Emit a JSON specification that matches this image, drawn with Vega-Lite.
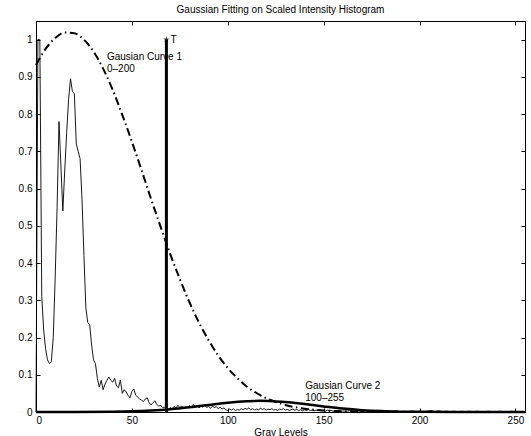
{
  "$schema": "https://vega.github.io/schema/vega-lite/v6.json",
  "width": 489,
  "height": 391,
  "autosize": "none",
  "padding": {"left": 36, "top": 21, "right": 6, "bottom": 24},
  "background": "white",
  "config": {
    "font": "Liberation Sans",
    "view": {"stroke": "black", "strokeWidth": 1},
    "axis": {"grid": false, "domainColor": "black", "tickColor": "black", "labelColor": "black", "titleColor": "black", "labelFontSize": 10, "titleFontSize": 10, "titleFontWeight": "normal", "tickSize": -4, "labelFont": "Liberation Sans", "titleFont": "Liberation Sans"}
  },
  "title": {"text": "Gaussian Fitting on Scaled Intensity Histogram", "fontSize": 10, "fontWeight": "normal", "offset": 6, "color": "black", "font": "Liberation Sans"},
  "datasets": {
    "hist": [
      {"x":0,"y":0},{"x":1,"y":1},{"x":2,"y":1},{"x":3,"y":0.31},{"x":4,"y":0.22},{"x":5,"y":0.17},{"x":6,"y":0.14},{"x":7,"y":0.13},{"x":8,"y":0.135},{"x":9,"y":0.2},
      {"x":10,"y":0.36},{"x":11,"y":0.55},{"x":12,"y":0.78},{"x":13,"y":0.66},{"x":14,"y":0.54},{"x":15,"y":0.65},{"x":16,"y":0.75},{"x":17,"y":0.84},{"x":18,"y":0.895},{"x":19,"y":0.86},
      {"x":20,"y":0.855},{"x":21,"y":0.72},{"x":22,"y":0.7},{"x":23,"y":0.68},{"x":24,"y":0.57},{"x":25,"y":0.42},{"x":26,"y":0.28},{"x":27,"y":0.24},{"x":28,"y":0.235},{"x":29,"y":0.18},
      {"x":30,"y":0.14},{"x":31,"y":0.13},{"x":32,"y":0.09},{"x":33,"y":0.067},{"x":34,"y":0.085},{"x":35,"y":0.06},{"x":36,"y":0.075},{"x":37,"y":0.085},{"x":38,"y":0.094},{"x":39,"y":0.085},
      {"x":40,"y":0.08},{"x":41,"y":0.09},{"x":42,"y":0.07},{"x":43,"y":0.065},{"x":44,"y":0.086},{"x":45,"y":0.05},{"x":46,"y":0.06},{"x":47,"y":0.054},{"x":48,"y":0.045},{"x":49,"y":0.038},
      {"x":50,"y":0.055},{"x":51,"y":0.062},{"x":52,"y":0.045},{"x":53,"y":0.04},{"x":54,"y":0.035},{"x":55,"y":0.032},{"x":56,"y":0.028},{"x":57,"y":0.035},{"x":58,"y":0.038},{"x":59,"y":0.025},
      {"x":60,"y":0.019},{"x":61,"y":0.025},{"x":62,"y":0.03},{"x":63,"y":0.02},{"x":64,"y":0.016},{"x":65,"y":0.018},{"x":66,"y":0.012},{"x":67,"y":0.013},{"x":68,"y":0.008},{"x":69,"y":0.005},
      {"x":70,"y":0.012},{"x":71,"y":0.008},{"x":72,"y":0.015},{"x":73,"y":0.01},{"x":74,"y":0.018},{"x":75,"y":0.012},{"x":76,"y":0.016},{"x":77,"y":0.009},{"x":78,"y":0.014},{"x":79,"y":0.011},
      {"x":80,"y":0.017},{"x":81,"y":0.012},{"x":82,"y":0.02},{"x":83,"y":0.014},{"x":84,"y":0.018},{"x":85,"y":0.011},{"x":86,"y":0.016},{"x":87,"y":0.013},{"x":88,"y":0.019},{"x":89,"y":0.012},
      {"x":90,"y":0.015},{"x":91,"y":0.01},{"x":92,"y":0.016},{"x":93,"y":0.012},{"x":94,"y":0.014},{"x":95,"y":0.009},{"x":96,"y":0.013},{"x":97,"y":0.008},{"x":98,"y":0.011},{"x":99,"y":0.006},
      {"x":100,"y":0.004},{"x":101,"y":0.008},{"x":102,"y":0.005},{"x":103,"y":0.009},{"x":104,"y":0.004},{"x":105,"y":0.007},{"x":106,"y":0.005},{"x":107,"y":0.009},{"x":108,"y":0.006},{"x":109,"y":0.01},
      {"x":110,"y":0.007},{"x":111,"y":0.011},{"x":112,"y":0.006},{"x":113,"y":0.009},{"x":114,"y":0.005},{"x":115,"y":0.008},{"x":116,"y":0.006},{"x":117,"y":0.01},{"x":118,"y":0.007},{"x":119,"y":0.009},
      {"x":120,"y":0.005},{"x":121,"y":0.008},{"x":122,"y":0.006},{"x":123,"y":0.009},{"x":124,"y":0.005},{"x":125,"y":0.007},{"x":126,"y":0.004},{"x":127,"y":0.008},{"x":128,"y":0.006},{"x":129,"y":0.009},
      {"x":130,"y":0.005},{"x":131,"y":0.007},{"x":132,"y":0.004},{"x":133,"y":0.006},{"x":134,"y":0.008},{"x":135,"y":0.005},{"x":136,"y":0.007},{"x":137,"y":0.004},{"x":138,"y":0.006},{"x":139,"y":0.003},
      {"x":140,"y":0.006},{"x":141,"y":0.004},{"x":142,"y":0.007},{"x":143,"y":0.004},{"x":144,"y":0.005},{"x":145,"y":0.003},{"x":146,"y":0.005},{"x":147,"y":0.004},{"x":148,"y":0.006},{"x":149,"y":0.003},
      {"x":150,"y":0.004},{"x":151,"y":0.002},{"x":152,"y":0.005},{"x":153,"y":0.003},{"x":154,"y":0.004},{"x":155,"y":0.002},{"x":156,"y":0.004},{"x":157,"y":0.003},{"x":158,"y":0.005},{"x":159,"y":0.002},
      {"x":160,"y":0.003},{"x":162,"y":0.002},{"x":164,"y":0.004},{"x":166,"y":0.002},{"x":168,"y":0.003},{"x":170,"y":0.001},{"x":172,"y":0.003},{"x":174,"y":0.002},{"x":176,"y":0.003},{"x":178,"y":0.001},
      {"x":180,"y":0.002},{"x":182,"y":0.003},{"x":184,"y":0.001},{"x":186,"y":0.002},{"x":188,"y":0.003},{"x":190,"y":0.001},{"x":192,"y":0.002},{"x":194,"y":0.001},{"x":196,"y":0.003},{"x":198,"y":0.001},
      {"x":200,"y":0.002},{"x":202,"y":0.001},{"x":204,"y":0.002},{"x":206,"y":0.004},{"x":208,"y":0.001},{"x":210,"y":0.003},{"x":212,"y":0.001},{"x":214,"y":0.002},{"x":216,"y":0.001},{"x":218,"y":0.002},
      {"x":220,"y":0.001},{"x":222,"y":0.002},{"x":224,"y":0.001},{"x":226,"y":0.002},{"x":228,"y":0.001},{"x":230,"y":0.002},{"x":232,"y":0.001},{"x":234,"y":0.001},{"x":236,"y":0.002},{"x":238,"y":0.001},
      {"x":240,"y":0.001},{"x":242,"y":0.002},{"x":244,"y":0.001},{"x":246,"y":0.001},{"x":248,"y":0.002},{"x":250,"y":0.001},{"x":252,"y":0.001},{"x":255,"y":0.001}
    ],
    "g1": [
      {"x":0,"y":0.932},{"x":5,"y":0.975},{"x":10,"y":1.004},{"x":15,"y":1.019},{"x":20,"y":1.017},{"x":25,"y":1.0},{"x":30,"y":0.968},{"x":35,"y":0.922},{"x":40,"y":0.865},{"x":45,"y":0.798},
      {"x":50,"y":0.726},{"x":55,"y":0.65},{"x":60,"y":0.572},{"x":65,"y":0.497},{"x":70,"y":0.424},{"x":75,"y":0.357},{"x":80,"y":0.295},{"x":85,"y":0.24},{"x":90,"y":0.193},{"x":95,"y":0.152},
      {"x":100,"y":0.118},{"x":105,"y":0.091},{"x":110,"y":0.068},{"x":115,"y":0.051},{"x":120,"y":0.037},{"x":125,"y":0.027},{"x":130,"y":0.019},{"x":135,"y":0.013},{"x":140,"y":0.009},{"x":145,"y":0.006},
      {"x":150,"y":0.004},{"x":160,"y":0.002},{"x":170,"y":0.001},{"x":180,"y":0},{"x":200,"y":0},{"x":255,"y":0}
    ],
    "g2": [
      {"x":0,"y":0},{"x":20,"y":0.0001},{"x":40,"y":0.0007},{"x":50,"y":0.0017},{"x":60,"y":0.0038},{"x":70,"y":0.0073},{"x":80,"y":0.0125},{"x":90,"y":0.0188},{"x":100,"y":0.025},{"x":110,"y":0.029},
      {"x":117,"y":0.03},{"x":125,"y":0.0285},{"x":130,"y":0.027},{"x":140,"y":0.0214},{"x":150,"y":0.015},{"x":160,"y":0.0092},{"x":170,"y":0.005},{"x":180,"y":0.0024},{"x":190,"y":0.001},{"x":200,"y":0.0004},
      {"x":220,"y":0},{"x":255,"y":0}
    ],
    "thr": [{"x":68,"y":0,"y2":1}],
    "labels": [
      {"x":37,"y":0.954,"text":"Gausian Curve 1"},
      {"x":37,"y":0.922,"text":"0–200"},
      {"x":140.4,"y":0.07,"text":"Gausian Curve 2"},
      {"x":140.4,"y":0.038,"text":"100–255"},
      {"x":70.2,"y":1.0,"text":"T"}
    ]
  },
  "layer": [
    {
      "data": {"name": "hist"},
      "mark": {"type": "line", "color": "black", "strokeWidth": 0.9},
      "encoding": {
        "x": {"field": "x", "type": "quantitative", "scale": {"domain": [0, 255], "nice": false, "zero": false},
              "axis": {"values": [0, 50, 100, 150, 200, 250], "title": "Gray Levels", "labelPadding": 7, "titlePadding": 2}},
        "y": {"field": "y", "type": "quantitative", "scale": {"domain": [0, 1.05], "nice": false, "zero": false},
              "axis": {"values": [0, 0.1, 0.2, 0.3, 0.4, 0.5, 0.6, 0.7, 0.8, 0.9, 1], "format": "~g", "title": null, "labelPadding": 8}}
      }
    },
    {
      "data": {"name": "g2"},
      "mark": {"type": "line", "color": "black", "strokeWidth": 2.5, "interpolate": "monotone"},
      "encoding": {
        "x": {"field": "x", "type": "quantitative", "axis": {"orient": "top", "values": [0, 50, 100, 150, 200, 250], "labels": false, "title": null}},
        "y": {"field": "y", "type": "quantitative", "axis": {"orient": "right", "values": [0, 0.1, 0.2, 0.3, 0.4, 0.5, 0.6, 0.7, 0.8, 0.9, 1], "labels": false, "title": null}}
      }
    },
    {
      "data": {"name": "g1"},
      "mark": {"type": "line", "color": "black", "strokeWidth": 2, "strokeDash": [8, 3.5, 1.5, 3.5], "interpolate": "monotone"},
      "encoding": {
        "x": {"field": "x", "type": "quantitative", "axis": null},
        "y": {"field": "y", "type": "quantitative", "axis": null}
      }
    },
    {
      "data": {"name": "thr"},
      "mark": {"type": "rule", "color": "black", "strokeWidth": 3},
      "encoding": {
        "x": {"field": "x", "type": "quantitative", "axis": null},
        "y": {"field": "y", "type": "quantitative", "axis": null},
        "y2": {"field": "y2"}
      }
    },
    {
      "data": {"name": "thr"},
      "mark": {"type": "point", "filled": true, "color": "black", "size": 45, "shape": "M0,-1L0.22,-0.31L0.95,-0.31L0.36,0.12L0.59,0.81L0,0.38L-0.59,0.81L-0.36,0.12L-0.95,-0.31L-0.22,-0.31Z"},
      "encoding": {
        "x": {"field": "x", "type": "quantitative", "axis": null},
        "y": {"field": "y2", "type": "quantitative", "axis": null}
      }
    },
    {
      "data": {"name": "labels"},
      "mark": {"type": "text", "align": "left", "baseline": "middle", "fontSize": 10, "color": "black", "font": "Liberation Sans"},
      "encoding": {
        "x": {"field": "x", "type": "quantitative", "axis": null},
        "y": {"field": "y", "type": "quantitative", "axis": null},
        "text": {"field": "text"}
      }
    }
  ],
  "resolve": {"axis": {"x": "independent", "y": "independent"}}
}
